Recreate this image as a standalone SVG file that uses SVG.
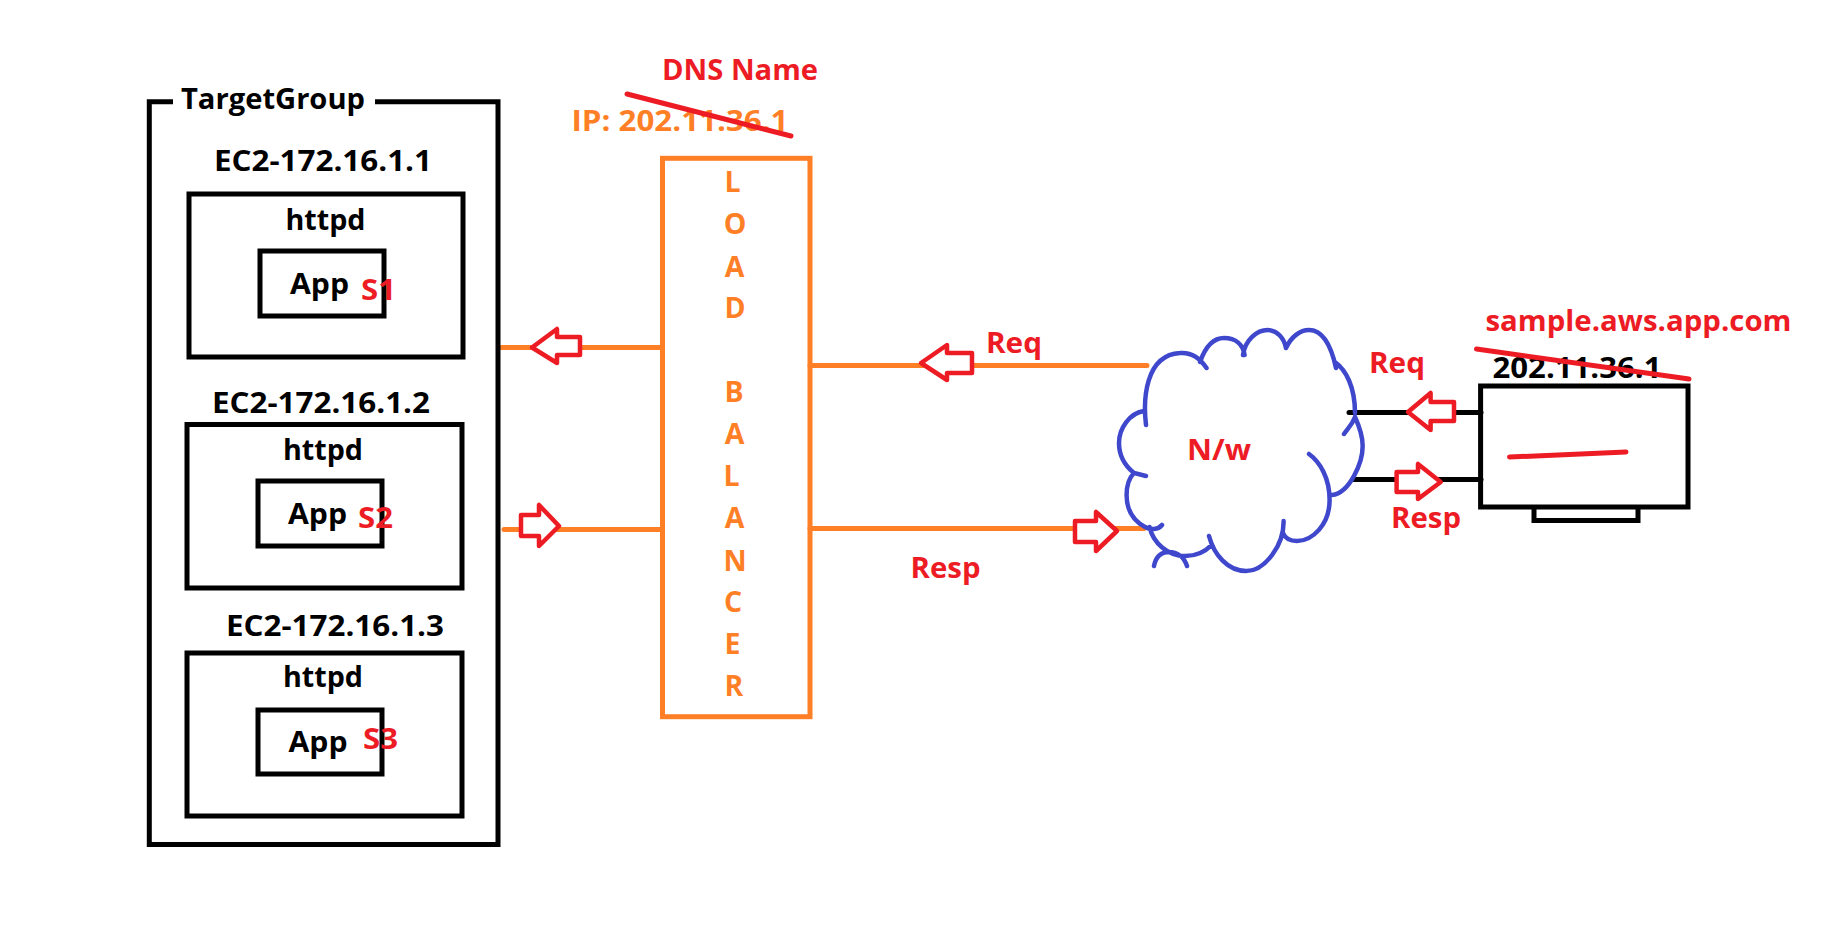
<svg xmlns="http://www.w3.org/2000/svg" width="1844" height="932" viewBox="0 0 1844 932">
<style>
text{font-family:"Open Sans","Noto Sans","Liberation Sans",sans-serif;font-weight:700;font-size:28.500px}
.k{fill:#000}.r{fill:#ED1C24}.o{fill:#FF7F27}
.box{fill:none;stroke:#000;stroke-width:5}
.lb{fill:none;stroke:#FF7F27;stroke-width:5}
.ol{fill:none;stroke:#FF7F27;stroke-width:5;stroke-linecap:round}
.bl{fill:none;stroke:#000;stroke-width:5;stroke-linecap:round}
.st{fill:none;stroke:#ED1C24;stroke-width:5;stroke-linecap:round}
.ar{fill:#fff;stroke:#ED1C24;stroke-width:4.500;stroke-linejoin:round}
.cl{fill:none;stroke:#3F48CC;stroke-width:4.500;stroke-linecap:round}
</style>
<rect width="1844" height="932" fill="#fff"/>
<g id="connectors">
<path class="ol" d="M501 347.500H662M504 529.500H662M810 365.500H1147M810 528.500H1144"/>
<path class="bl" d="M1349 412.500H1481M1353.500 479.500H1481"/>
<path class="ar" d="M532 347.500L557 329V337H580V355H557V363Z"/>
<path class="ar" d="M559 526L539 505V515H521V536H539V546Z"/>
<path class="ar" d="M921 363L947 345V353H972V373H947V380Z"/>
<path class="ar" d="M1117 531L1096 512V521H1075V542H1096V551Z"/>
<path class="ar" d="M1408 412L1430.600 393V402H1454V421H1430.600V430Z"/>
<path class="ar" d="M1440.700 482L1418 464V472H1396.600V492H1418V499Z"/>
<text class="r" x="986" y="353" textLength="56" lengthAdjust="spacingAndGlyphs">Req</text>
<text class="r" x="910.500" y="578" textLength="70" lengthAdjust="spacingAndGlyphs">Resp</text>
<text class="r" x="1369" y="373" textLength="56" lengthAdjust="spacingAndGlyphs">Req</text>
<text class="r" x="1391" y="528" textLength="70" lengthAdjust="spacingAndGlyphs">Resp</text>
</g>
<g id="target-group">
<path class="box" d="M173 101.700H149.300V844.500H498V101.700H375"/>
<text class="k" x="181" y="109" textLength="184" lengthAdjust="spacingAndGlyphs">TargetGroup</text>
</g>
<g id="ec2-1">
<text class="k" x="214" y="171" textLength="218" lengthAdjust="spacingAndGlyphs">EC2-172.16.1.1</text>
<rect class="box" x="189" y="194" width="274" height="163"/>
<text class="k" x="285.500" y="230" textLength="80" lengthAdjust="spacingAndGlyphs">httpd</text>
<rect class="box" x="260" y="251" width="124" height="65"/>
<text class="k" x="290" y="294" textLength="59" lengthAdjust="spacingAndGlyphs">App</text>
<text class="r" x="361" y="300" textLength="35" lengthAdjust="spacingAndGlyphs">S1</text>
</g>
<g id="ec2-2">
<text class="k" x="212" y="413" textLength="218" lengthAdjust="spacingAndGlyphs">EC2-172.16.1.2</text>
<rect class="box" x="187" y="424.500" width="275" height="163.500"/>
<text class="k" x="283" y="460" textLength="80" lengthAdjust="spacingAndGlyphs">httpd</text>
<rect class="box" x="258" y="481" width="124" height="65"/>
<text class="k" x="288" y="524" textLength="59" lengthAdjust="spacingAndGlyphs">App</text>
<text class="r" x="358" y="528" textLength="35" lengthAdjust="spacingAndGlyphs">S2</text>
</g>
<g id="ec2-3">
<text class="k" x="226" y="636" textLength="218" lengthAdjust="spacingAndGlyphs">EC2-172.16.1.3</text>
<rect class="box" x="187" y="653" width="275" height="163"/>
<text class="k" x="283" y="687" textLength="80" lengthAdjust="spacingAndGlyphs">httpd</text>
<rect class="box" x="258" y="710" width="124" height="64"/>
<text class="k" x="288.500" y="752" textLength="59" lengthAdjust="spacingAndGlyphs">App</text>
<text class="r" x="363" y="749" textLength="35" lengthAdjust="spacingAndGlyphs">S3</text>
</g>
<g id="load-balancer">
<rect class="lb" x="662.500" y="158.300" width="147.500" height="558.400"/>
<g class="o" text-anchor="middle">
<text x="732.500" y="192">L</text><text x="735" y="234">O</text><text x="734.500" y="277">A</text><text x="735" y="318">D</text>
<text x="734" y="402">B</text><text x="734.500" y="444">A</text><text x="731.500" y="486">L</text><text x="734.500" y="528">A</text><text x="735" y="571">N</text><text x="733" y="612">C</text><text x="732.500" y="654">E</text><text x="734" y="696">R</text>
</g>
<text class="r" x="662" y="80" textLength="156" lengthAdjust="spacingAndGlyphs">DNS Name</text>
<text class="o" x="571.500" y="131" textLength="217" lengthAdjust="spacingAndGlyphs">IP: 202.11.36.1</text>
<path class="st" d="M627 94L791 136"/>
</g>
<g id="network">
<path class="cl" d="M1146 425C1143 400 1145 355 1180 353C1192 352 1200 358 1206.500 368M1200 362C1206 345 1214 338 1224 338C1236 338 1243 345 1244.600 355M1243 355C1245 340 1257 330 1267.600 330C1277 330 1284 338 1286 348M1286 348C1291 337 1300 330 1309 330C1322 330 1331 345 1336 368M1335 362C1346 370 1355 387 1355 413M1344 434C1348 428 1352 425 1355 417C1360 428 1363 437 1362.600 447C1362.600 462 1350 493 1332 495M1309 454C1320 462 1329.600 478 1329.600 500C1329.600 525 1312 541 1297 541C1290 541 1285 538 1283 533M1283.600 521C1284 545 1265 571 1246 571C1228 571 1214 555 1209 536M1211.600 545C1204 553 1195 556 1185 556C1168 556 1153 543 1149.600 527M1162 525C1158 530 1150 530 1145 527C1132 520 1126.600 508 1126.600 495C1126.600 487 1129 478 1134 473M1146 476L1134 473C1124 465 1119 455 1119 443C1119 428 1130 413 1144 411M1154 566C1156 556 1162 552 1169 552C1177 552 1184 557 1187 566"/>
<text class="r" x="1187" y="460" textLength="64" lengthAdjust="spacingAndGlyphs">N/w</text>
</g>
<g id="client">
<rect class="box" x="1480.600" y="386" width="207.400" height="121"/>
<path class="box" d="M1534 507V520.600H1638V507"/>
<path class="st" d="M1509.500 457L1626 452"/>
<text class="r" x="1485.500" y="331" textLength="306" lengthAdjust="spacingAndGlyphs">sample.aws.app.com</text>
<text class="k" x="1492.500" y="378" textLength="169" lengthAdjust="spacingAndGlyphs">202.11.36.1</text>
<path class="st" d="M1476.500 349L1689 379"/>
</g>
</svg>
